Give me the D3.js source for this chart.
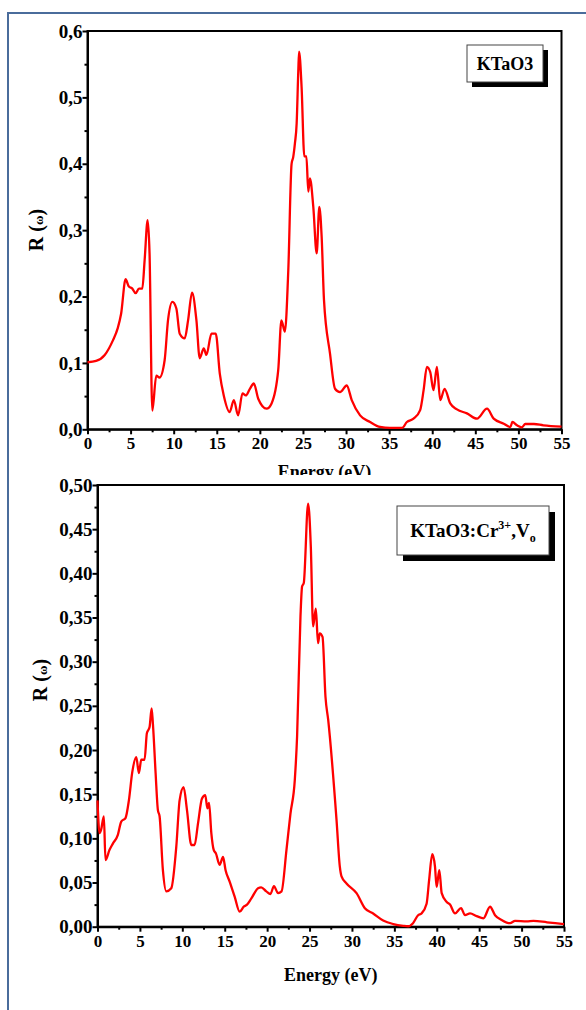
<!DOCTYPE html>
<html>
<head>
<meta charset="utf-8">
<script src="https://cdn.jsdelivr.net/npm/d3@7"></script>
<style>
  html, body { margin: 0; padding: 0; background: #fff; }
  svg { display: block; }
  text { font-family: "Liberation Serif", "Times New Roman", serif; font-weight: bold; fill: #000; }
</style>
</head>
<body>
<svg id="chart" width="586" height="1010"></svg>
<script>
// ---------- DATA ----------
// Energy (eV), R(ω) for pure KTaO3
const seriesKTaO3 = [
  [0, 0.101], [1, 0.103], [2, 0.112], [2.95, 0.134], [3.5, 0.152], [3.9, 0.174],
  [4.42, 0.226], [4.8, 0.215], [5.2, 0.212], [5.58, 0.205], [5.97, 0.212], [6.36, 0.212],
  [6.63, 0.255], [6.98, 0.315], [7.2, 0.265], [7.52, 0.028], [7.98, 0.081], [8.36, 0.078],
  [8.95, 0.104], [9.34, 0.164], [9.85, 0.192], [10.31, 0.182], [10.7, 0.144], [11.28, 0.137],
  [11.67, 0.164], [12.13, 0.206], [12.64, 0.164], [13.02, 0.107], [13.49, 0.122], [13.8, 0.112],
  [14.38, 0.144], [14.88, 0.144], [15.35, 0.084], [15.81, 0.051], [16.5, 0.026], [16.98, 0.044],
  [17.48, 0.021], [17.98, 0.054], [18.37, 0.051], [18.84, 0.061], [19.3, 0.069], [19.81, 0.046],
  [20.78, 0.031], [21.36, 0.039], [22.13, 0.089], [22.5, 0.164], [22.9, 0.147], [23.3, 0.24],
  [23.68, 0.40], [23.87, 0.41], [24.07, 0.431], [24.27, 0.461], [24.46, 0.54], [24.55, 0.569],
  [24.84, 0.516], [25.16, 0.411], [25.4, 0.411], [25.62, 0.358], [25.81, 0.378], [26.2, 0.335],
  [26.59, 0.265], [26.9, 0.335], [27.17, 0.29], [27.44, 0.195], [28.14, 0.114], [28.72, 0.061],
  [29.3, 0.056], [30.08, 0.066], [30.66, 0.044], [31.63, 0.021], [32.79, 0.011], [33.95, 0.0035],
  [35.1, 0.002], [36.5, 0.002], [37.06, 0.011], [37.83, 0.016], [38.6, 0.029], [39.0, 0.059],
  [39.38, 0.094], [39.77, 0.086], [40.15, 0.059], [40.54, 0.094], [40.93, 0.044], [41.43, 0.061],
  [42.09, 0.039], [42.87, 0.030], [44.03, 0.024], [45.2, 0.016], [46.36, 0.031], [47.13, 0.016],
  [48.3, 0.0085], [49.07, 0.0035], [49.3, 0.011], [49.84, 0.006], [50.4, 0.003], [50.8, 0.008],
  [51.8, 0.008], [52.9, 0.006], [55, 0.004]
];
// Energy (eV), R(ω) for KTaO3:Cr3+,Vo
const seriesCrVo = [
  [0, 0.143], [0.24, 0.106], [0.43, 0.110], [0.75, 0.125], [0.94, 0.0755], [1.42, 0.087],
  [1.81, 0.094], [2.4, 0.104], [2.8, 0.119], [3.3, 0.123], [3.7, 0.143], [4.1, 0.175],
  [4.57, 0.192], [4.88, 0.174], [5.16, 0.189], [5.55, 0.189], [5.82, 0.219], [6.14, 0.226],
  [6.38, 0.247], [6.53, 0.230], [6.85, 0.174], [7.12, 0.132], [7.32, 0.125], [7.71, 0.064],
  [8.11, 0.040], [8.7, 0.0435], [9.29, 0.0906], [9.68, 0.143], [10.15, 0.158], [10.55, 0.132],
  [11.06, 0.0925], [11.45, 0.0925], [11.85, 0.117], [12.32, 0.145], [12.71, 0.149], [12.95, 0.134],
  [13.15, 0.140], [13.42, 0.106], [13.7, 0.087], [13.96, 0.083], [14.4, 0.070], [14.8, 0.079],
  [15.1, 0.064], [15.58, 0.051], [16.17, 0.034], [16.76, 0.017], [17.24, 0.0226], [17.6, 0.0246],
  [18.14, 0.032], [18.93, 0.0435], [19.3, 0.0445], [19.9, 0.040], [20.39, 0.037], [20.8, 0.046],
  [21.29, 0.038], [21.7, 0.040], [22.28, 0.087], [22.75, 0.128], [23.26, 0.166], [23.53, 0.215],
  [23.93, 0.351], [24.12, 0.385], [24.32, 0.389], [24.83, 0.479], [25.15, 0.430], [25.42, 0.340],
  [25.74, 0.360], [26.0, 0.321], [26.2, 0.332], [26.53, 0.328], [26.88, 0.260], [27.2, 0.234],
  [28.18, 0.121], [28.57, 0.068], [28.77, 0.057], [29.36, 0.049], [30.54, 0.038], [31.52, 0.021],
  [32.5, 0.015], [33.68, 0.007], [34.87, 0.003], [36.05, 0.001], [36.63, 0.0005], [37.2, 0.004],
  [37.8, 0.013], [38.2, 0.015], [38.8, 0.026], [39.1, 0.053], [39.47, 0.082], [39.79, 0.068],
  [39.98, 0.045], [40.3, 0.064], [40.58, 0.038], [41.17, 0.028], [41.56, 0.025], [42.15, 0.015],
  [42.86, 0.021], [43.33, 0.013], [43.92, 0.015], [44.7, 0.012], [45.5, 0.0095], [46.28, 0.0226],
  [46.87, 0.013], [47.66, 0.0076], [48.64, 0.004], [49.23, 0.0066], [50.6, 0.006], [51.4, 0.0066],
  [53.0, 0.005], [55, 0.003]
];
const xTicks = [0, 5, 10, 15, 20, 25, 30, 35, 40, 45, 50, 55];
const yTicksTop = [0, 0.1, 0.2, 0.3, 0.4, 0.5, 0.6];
const yTicksBottom = [0, 0.05, 0.10, 0.15, 0.20, 0.25, 0.30, 0.35, 0.40, 0.45, 0.50];
const labelTop = "KTaO3";
const xTitle = "Energy (eV)";

// ---------- DRAW ----------
const svg = d3.select("#chart");
svg.append("rect").attr("width", 586).attr("height", 1010).attr("fill", "#fff");

const commaFmt = (digits) => (d) => d3.format("." + digits + "f")(d).replace(".", ",");

function panel(cfg) {
  const g = svg.append("g");
  const x = d3.scaleLinear().domain([0, 55]).range([cfg.left, cfg.right]);
  const y = d3.scaleLinear().domain([0, cfg.yMax]).range([cfg.bottom, cfg.top]);

  // minor ticks
  const xMinor = d3.range(2.5, 55, 5);
  g.append("g").attr("transform", `translate(0,${cfg.bottom})`)
    .call(d3.axisBottom(x).tickValues(xMinor).tickSize(3).tickFormat(""))
    .call(s => s.select(".domain").remove())
    .call(s => s.selectAll("line").attr("stroke-width", 2));
  g.append("g").attr("transform", `translate(${cfg.left},0)`)
    .call(d3.axisLeft(y).tickValues(cfg.yMinor).tickSize(3).tickFormat(""))
    .call(s => s.select(".domain").remove())
    .call(s => s.selectAll("line").attr("stroke-width", 2));

  // major axes
  const xa = g.append("g").attr("transform", `translate(0,${cfg.bottom})`)
    .call(d3.axisBottom(x).tickValues(xTicks).tickSize(5).tickPadding(3).tickSizeOuter(0).tickFormat(d3.format("d")));
  const ya = g.append("g").attr("transform", `translate(${cfg.left},0)`)
    .call(d3.axisLeft(y).tickValues(cfg.yTicks).tickSize(5).tickPadding(0).tickSizeOuter(0).tickFormat(commaFmt(cfg.digits)));
  [xa, ya].forEach(a => {
    a.selectAll("line").attr("stroke", "#000").attr("stroke-width", 2);
    a.select(".domain").attr("stroke", "#000").attr("stroke-width", 2);
    a.selectAll("text").attr("font-family", "Liberation Serif").attr("font-weight", "bold").attr("fill", "#000");
  });
  xa.selectAll("text").attr("font-size", 17);
  ya.selectAll("text").attr("font-size", 19);

  // frame
  g.append("rect").attr("x", cfg.left).attr("y", cfg.top)
    .attr("width", cfg.right - cfg.left).attr("height", cfg.bottom - cfg.top)
    .attr("fill", "none").attr("stroke", "#000").attr("stroke-width", 2);

  // curve
  const line = d3.line().x(d => x(d[0])).y(d => y(d[1])).curve(d3.curveMonotoneX);
  g.append("path").datum(cfg.data).attr("d", line)
    .attr("fill", "none").attr("stroke", "#ff0000").attr("stroke-width", 2.3).attr("stroke-linejoin", "round");

  // axis titles
  g.append("text").attr("x", (cfg.left + cfg.right) / 2).attr("y", cfg.xTitleY)
    .attr("text-anchor", "middle").attr("font-size", 18).text(xTitle);
  const yt = g.append("text").attr("transform", `translate(${cfg.yTitleX},${cfg.yTitleY}) rotate(-90)`)
    .attr("text-anchor", "middle").attr("font-size", 20);
  yt.append("tspan").text("R (");
  yt.append("tspan").attr("font-size", 13).text("ω");
  yt.append("tspan").text(")");

  // legend box
  const lb = cfg.legend;
  g.append("rect").attr("x", lb.x + lb.off).attr("y", lb.y + lb.off).attr("width", lb.w).attr("height", lb.h).attr("fill", "#000");
  g.append("rect").attr("x", lb.x).attr("y", lb.y).attr("width", lb.w).attr("height", lb.h)
    .attr("fill", "#fff").attr("stroke", "#444").attr("stroke-width", 1);
  const lt = g.append("text").attr("x", lb.x + lb.w / 2).attr("y", lb.y + lb.h / 2 + 6)
    .attr("text-anchor", "middle").attr("font-size", lb.font);
  lb.build(lt);
  return g;
}

// top panel
panel({
  left: 87.5, right: 561.5, top: 31, bottom: 429.3, yMax: 0.6,
  yTicks: yTicksTop, yMinor: d3.range(0.05, 0.6, 0.1), digits: 1,
  data: seriesKTaO3, xTitleY: 478, yTitleX: 43, yTitleY: 230,
  legend: { x: 467, y: 45, w: 76, h: 37, off: 5, font: 18, build: t => t.text(labelTop) }
});

// cover (bottom image overlapping the top panel's x title)
svg.append("rect").attr("x", 0).attr("y", 475).attr("width", 586).attr("height", 535).attr("fill", "#fff");

// bottom panel
panel({
  left: 97.5, right: 564, top: 485, bottom: 926.7, yMax: 0.5,
  yTicks: yTicksBottom, yMinor: d3.range(0.025, 0.5, 0.05), digits: 2,
  data: seriesCrVo, xTitleY: 981, yTitleX: 47, yTitleY: 680,
  legend: { x: 397, y: 506, w: 152, h: 49, off: 6, font: 19, build: t => {
    t.append("tspan").text("KTaO3:Cr");
    t.append("tspan").attr("font-size", 12).attr("dy", -8).text("3+");
    t.append("tspan").attr("dy", 8).text(",V");
    t.append("tspan").attr("font-size", 12).attr("dy", 5).text("o");
  } }
});

// outer blue frame
svg.append("rect").attr("x", 8).attr("y", 13).attr("width", 640).attr("height", 1100)
  .attr("fill", "none").attr("stroke", "#4a6c9b").attr("stroke-width", 2);
</script>
</body>
</html>
